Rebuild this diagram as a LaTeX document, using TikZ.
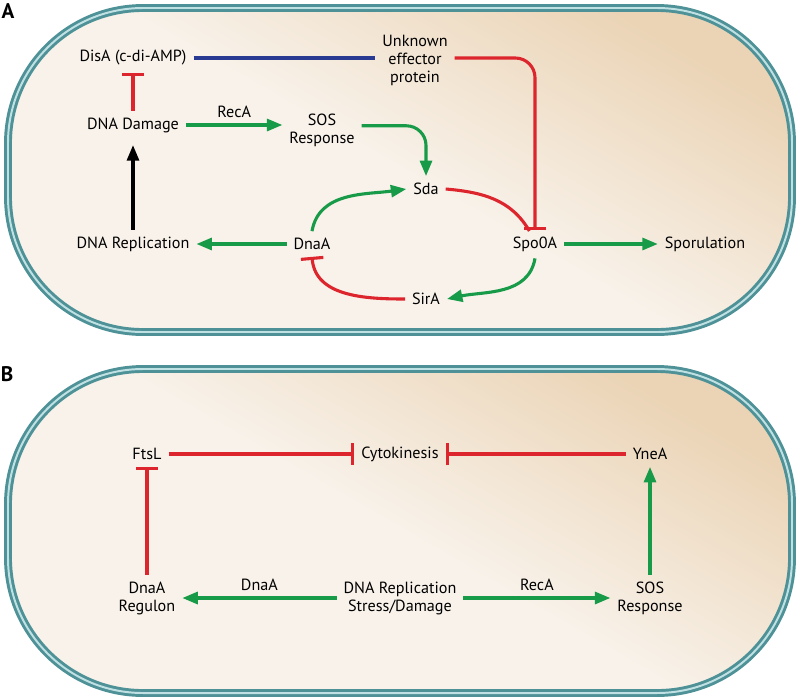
\documentclass[tikz,border=0pt]{standalone}
\usepackage{fontspec}
\setmainfont{PT Sans}
\usepackage{tikz}
\usetikzlibrary{arrows.meta}

\definecolor{actgreen}{RGB}{24,155,72}
\definecolor{inhred}{RGB}{221,37,45}
\definecolor{linkblue}{RGB}{40,58,146}
\definecolor{wallteal}{RGB}{78,146,152}
\definecolor{walllight}{RGB}{192,225,227}
\definecolor{cellpale}{RGB}{248,242,234}
\definecolor{celltan}{RGB}{235,212,182}

\begin{document}
\begin{tikzpicture}[
    x=0.025cm, y=0.025cm,
    every node/.style={
        font=\fontsize{11.5}{12.8}\selectfont,
        align=center,
        inner sep=1pt,
        outer sep=4pt,
        text=black
    },
    cell/.style={
        top color=celltan,
        bottom color=cellpale,
        middle color=cellpale,
        shading angle=-30,
        draw=wallteal,
        double=walllight,
        double distance=1.4pt,
        line width=2.1pt,
        rounded corners=3.375cm
    },
    act/.style={
        -{Triangle[length=11pt,width=8.5pt]},
        line width=2.2pt,
        actgreen
    },
    inh/.style={
        -{Bar[width=16pt]},
        line width=2.2pt,
        inhred
    },
    panel/.style={
        font=\fontsize{15}{15}\selectfont\bfseries,
        inner sep=0pt,
        outer sep=0pt
    }
]
    \useasboundingbox (0,0) rectangle (800,-698);

    % cells
    \shadedraw[cell] (8,-8) rectangle (792,-332);
    \shadedraw[cell] (8,-369) rectangle (792,-693);
    \node[panel] (labA) at (8,-11) {A};
    \node[panel] (labB) at (7,-374) {B};

    % panel A
    \node (disa) at (133,-58) {DisA (c-di-AMP)};
    \node (damage) at (133,-125) {DNA Damage};
    \node (replic) at (133,-244) {DNA Replication};
    \node (sosA) at (322,-130) {SOS\\Response};
    \node (unknown) at (415,-60) {Unknown\\effector\\protein};
    \node (sda) at (426,-189) {Sda};
    \node (dnaa) at (312,-244) {DnaA};
    \node (spo0a) at (535,-244) {Spo0A};
    \node (sira) at (426,-299) {SirA};
    \node (sporul) at (705,-244) {Sporulation};

    \draw[line width=2.2pt, linkblue] (disa.east) -- (disa.east -| unknown.west);
    \draw[inh, rounded corners=14pt] (unknown.east |- disa.east) -| (spo0a.north);
    \draw[inh] (damage) -- (disa);
    \draw[line width=2.2pt, -{Triangle[length=11pt,width=8.5pt]}, shorten >=4pt] (replic) -- (damage);
    \draw[act] (damage.east) -- (damage.east -| sosA.west) node[midway, above] {RecA};
    \draw[act, rounded corners=14pt] ([yshift=3pt]sosA.east) -| (sda.north);
    \draw[act] (dnaa.north) to[out=80, in=188] (sda.west);
    \draw[line width=2.2pt, inhred] (sda.east) to[out=-5, in=120] ([xshift=-4pt, yshift=-1pt]spo0a.north);
    \draw[act] (spo0a.south) to[out=-100, in=12] (sira.east);
    \draw[inh] (sira.west) to[out=180, in=-85] (dnaa.south);
    \draw[act] (dnaa) -- (replic);
    \draw[act] (spo0a) -- (sporul);

    % panel B
    \node (ftsl) at (147,-454) {FtsL};
    \node (cyto) at (400,-454) {Cytokinesis};
    \node (ynea) at (650,-454) {YneA};
    \node (regulon) at (147,-598) {DnaA\\Regulon};
    \node (stress) at (400,-598) {DNA Replication\\Stress/Damage};
    \node (sosB) at (650,-598) {SOS\\Response};

    \draw[inh] (ftsl) -- (cyto);
    \draw[inh] (ynea) -- (cyto);
    \draw[inh] (regulon) -- (ftsl);
    \draw[act] (sosB) -- (ynea);
    \draw[act] (stress.west) -- (stress.west -| regulon.east) node[midway, above] {DnaA};
    \draw[act] (stress.east) -- (stress.east -| sosB.west) node[midway, above] {RecA};
\end{tikzpicture}
\end{document}
